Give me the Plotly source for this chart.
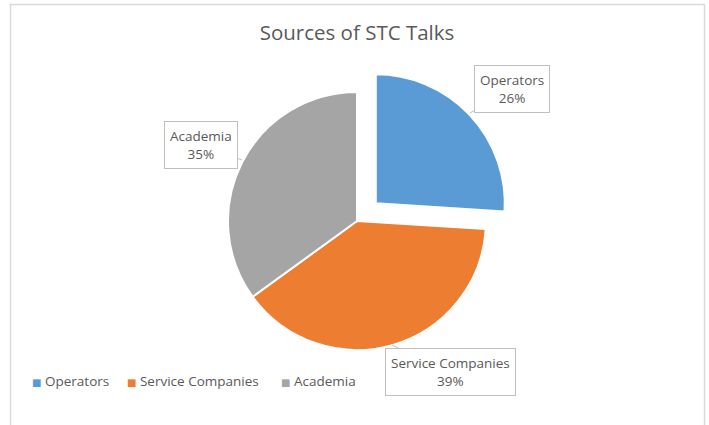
import plotly.graph_objects as go

W, H = 709, 425

categories = ["Operators", "Service Companies", "Academia"]
values = [26, 39, 35]
colors = ["#5B9BD5", "#ED7D31", "#A5A5A5"]
pulls = [0.2, 0, 0]
title_text = "Sources of STC Talks"

def px(x):
    return x / W

def py(y):
    return 1 - y / H

# pie geometry (pixels)
cx, cy, r = 357, 221, 129
half = r * (1 + max(pulls))

fig = go.Figure()
fig.add_trace(go.Pie(
    labels=categories,
    values=values,
    marker=dict(colors=colors, line=dict(color="white", width=2)),
    pull=pulls,
    sort=False,
    direction="clockwise",
    rotation=0,
    textinfo="none",
    hoverinfo="label+percent",
    showlegend=False,
    domain=dict(x=[px(cx - half), px(cx + half)], y=[py(cy + half), py(cy - half)]),
))

total = sum(values)
label_font = dict(family="Open Sans", size=13.5, color="#595959")
# callout label placement: (tip x, tip y, box offset x, box offset y) in px
callouts = [(470, 113, 42, -24), (392, 345, 58, 27), (242, 160, -41, -15)]
annotations = []
for lab, v, (tx, ty, ax, ay) in zip(categories, values, callouts):
    annotations.append(dict(
        x=px(tx), y=py(ty), xref="paper", yref="paper",
        text=f"{lab}<br>{round(v / total * 100)}%",
        showarrow=True, arrowhead=0, arrowwidth=1, arrowcolor="#BFBFBF",
        ax=ax, ay=ay, axref="pixel", ayref="pixel",
        font=label_font,
        bordercolor="#BFBFBF", borderwidth=1, borderpad=5,
        bgcolor="white", align="center",
    ))

# custom legend (small squares + names), left positions in px
legend_left = [30, 125, 279]
for lab, col, lx in zip(categories, colors, legend_left):
    annotations.append(dict(
        x=px(lx), y=py(381), xref="paper", yref="paper",
        xanchor="left", yanchor="middle", showarrow=False,
        text=f"<span style='color:{col};font-family:DejaVu Sans;font-size:10px'>■</span> {lab}",
        font=label_font,
    ))

fig.update_layout(
    width=W, height=H,
    margin=dict(l=0, r=0, t=0, b=0),
    paper_bgcolor="white",
    title=dict(text=title_text, x=px(357), y=py(33), xanchor="center", yanchor="middle",
               font=dict(family="Open Sans", size=20.5, color="#595959")),
    showlegend=False,
    annotations=annotations,
    shapes=[dict(type="rect", xref="paper", yref="paper",
                 x0=px(10.5), x1=px(704.5), y0=-0.05, y1=py(4.5),
                 line=dict(color="#D9D9D9", width=1.5), layer="below")],
)

fig.write_html("out.html")
